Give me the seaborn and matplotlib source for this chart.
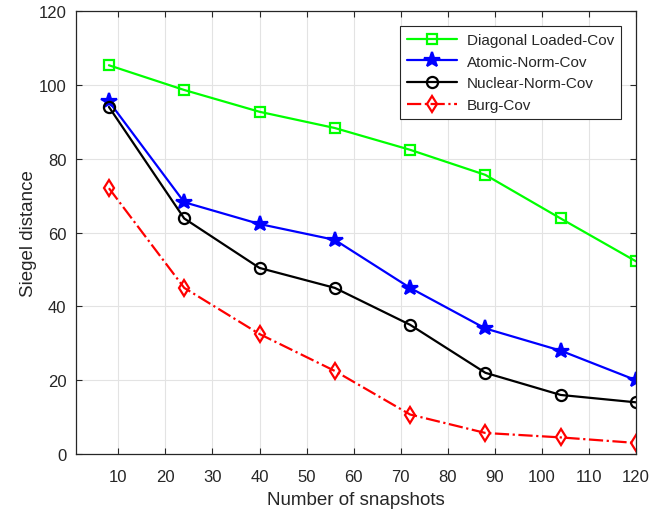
import matplotlib
matplotlib.use("Agg")
import matplotlib.pyplot as plt
import seaborn as sns
import pandas as pd

snapshots = [8, 24, 40, 56, 72, 88, 104, 120]
diag_loaded = [105.3, 98.6, 92.7, 88.3, 82.4, 75.6, 63.8, 52.2]
atomic_norm = [95.5, 68.2, 62.3, 58.0, 45.0, 34.0, 28.0, 20.0]
nuclear_norm = [94.0, 63.8, 50.4, 45.0, 35.0, 22.0, 16.0, 14.0]
burg = [72.0, 45.0, 32.5, 22.5, 10.7, 5.7, 4.5, 3.0]

series_names = ["Diagonal Loaded-Cov", "Atomic-Norm-Cov", "Nuclear-Norm-Cov", "Burg-Cov"]
series_values = [diag_loaded, atomic_norm, nuclear_norm, burg]

sns.set_theme(style="whitegrid")
plt.rcParams["font.family"] = ["Liberation Sans", "DejaVu Sans"]

fig = plt.figure(figsize=(6.62, 5.10), dpi=100)
ax = fig.add_axes([0.1148, 0.1078, 0.8459, 0.8687])

styles = {
    "Diagonal Loaded-Cov": dict(color="#00ff00", marker="s", linestyle="-", mfc="none", ms=6.5),
    "Atomic-Norm-Cov": dict(color="#0000ff", marker="*", linestyle="-", mfc="#0000ff", ms=11.5),
    "Nuclear-Norm-Cov": dict(color="#000000", marker="o", linestyle="-", mfc="none", ms=8),
    "Burg-Cov": dict(color="#ff0000", marker="d", linestyle="-.", mfc="none", ms=8.5),
}

for name, vals in zip(series_names, series_values):
    st = styles[name]
    df = pd.DataFrame({"x": snapshots, "y": vals})
    sns.lineplot(data=df, x="x", y="y", ax=ax, color=st["color"], label=name,
                 linewidth=1.6, marker=st["marker"], markersize=st["ms"],
                 markerfacecolor=st["mfc"], markeredgecolor=st["color"],
                 markeredgewidth=1.6, linestyle=st["linestyle"])

ax.set_xlim(1, 120)
ax.set_ylim(0, 120)
ax.set_xticks(range(10, 121, 10))
ax.set_yticks(range(0, 121, 20))
ax.grid(True, color="#e3e3e3", linewidth=0.8)
ax.set_facecolor("white")
for sp in ax.spines.values():
    sp.set_visible(True)
    sp.set_color("#262626")
    sp.set_linewidth(0.9)
ax.tick_params(axis="both", which="both", direction="in", length=4, width=0.8,
               colors="#262626", labelsize=12, top=True, right=True,
               bottom=True, left=True)
ax.tick_params(axis="x", pad=11)
ax.tick_params(axis="y", pad=7)
ax.set_xlabel("Number of snapshots", fontsize=13.5, color="#262626", labelpad=5)
ax.set_ylabel("Siegel distance", fontsize=13.5, color="#262626", labelpad=1)

leg = ax.legend(loc="upper right", fontsize=11, frameon=True, fancybox=False,
                edgecolor="#262626", framealpha=1, borderaxespad=1.0,
                handlelength=3.3, handletextpad=0.6, labelspacing=0.5, borderpad=0.45)
leg.get_frame().set_linewidth(0.8)

fig.savefig("out.png", dpi=100)
